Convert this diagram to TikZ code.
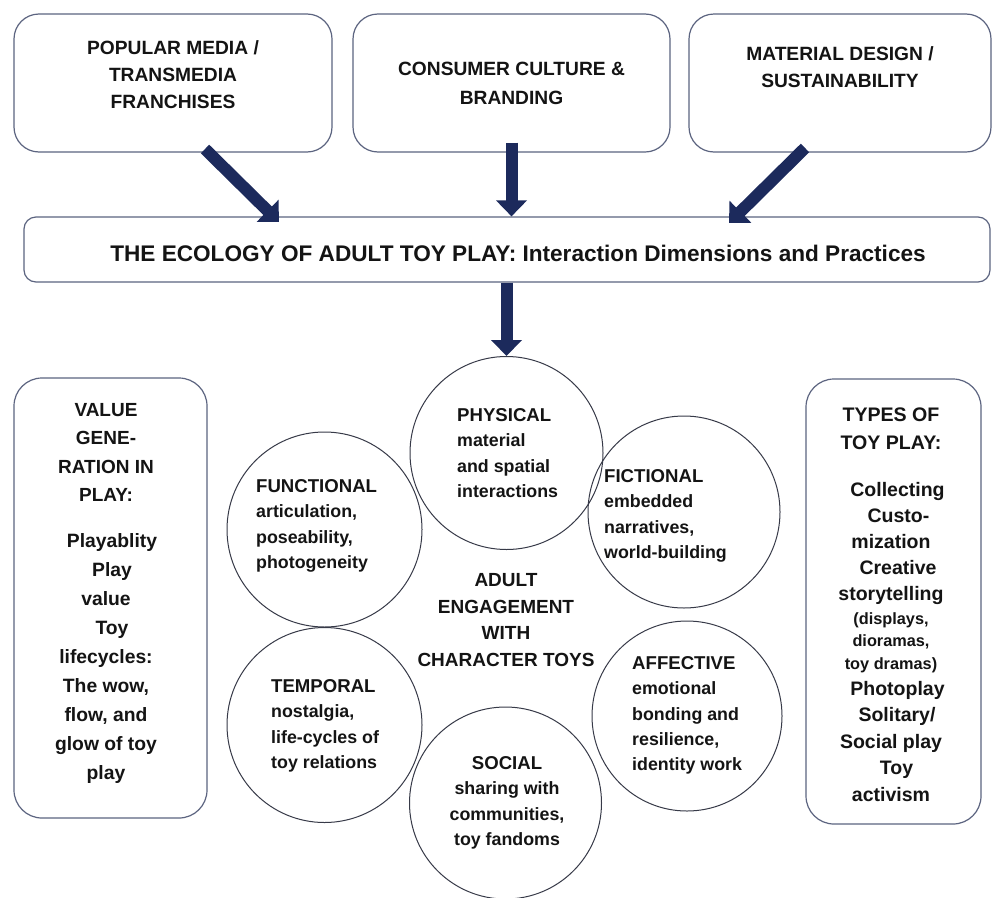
\documentclass[tikz,border=0pt]{standalone}
\usepackage{fontspec}
\setmainfont{Liberation Sans}
\usetikzlibrary{arrows.meta}
\definecolor{navy}{RGB}{28,42,92}
\definecolor{boxline}{RGB}{92,100,128}
\definecolor{circline}{RGB}{55,58,72}
\definecolor{ink}{RGB}{20,20,20}
\newcommand\fsz[2]{\fontsize{#1}{#2}\selectfont}
\begin{document}
\begin{tikzpicture}[x=1pt,y=-1pt,
  rbox/.style={draw=boxline, line width=1.2pt, fill=white, rounded corners=#1, inner sep=0pt},
  circ/.style={draw=circline, line width=1pt, circle, inner sep=0pt},
  txt/.style={inner sep=0pt, text=ink},
  bigarrow/.style={draw=navy, line width=12pt, -{Triangle[width=30pt,length=16pt]}}]
\fill[white] (0,0) rectangle (992,897);
\useasboundingbox (0,0) rectangle (992,897);

% top boxes
\node[rbox=25pt, minimum width=318pt, minimum height=138pt] (b1) at (173,83) {};
\node[rbox=25pt, minimum width=317pt, minimum height=138pt] (b2) at (511.5,83) {};
\node[rbox=25pt, minimum width=302pt, minimum height=138pt] (b3) at (840,83) {};
\node[txt, anchor=north, align=center, font={\bfseries\fsz{19.2}{27}}] (t1) at (173,40) {POPULAR MEDIA /\\TRANSMEDIA\\FRANCHISES};
\node[txt, anchor=north, align=center, font={\bfseries\fsz{19.2}{28.5}}] (t2) at (511.5,62) {CONSUMER CULTURE \&\\BRANDING};
\node[txt, anchor=north, align=center, font={\bfseries\fsz{19.2}{27}}] (t3) at (840,46) {MATERIAL DESIGN /\\SUSTAINABILITY};

% main box
\node[rbox=12pt, minimum width=966pt, minimum height=65pt] (main) at (507,249.5) {};
\node[txt, anchor=base, font={\bfseries\fsz{22.6}{27}}] (title) at (518,261) {THE ECOLOGY OF ADULT TOY PLAY: Interaction Dimensions and Practices};

% side boxes
\node[rbox=28pt, minimum width=193pt, minimum height=440pt] (lbox) at (110.5,598) {};
\node[rbox=28pt, minimum width=175pt, minimum height=445pt] (rbx) at (893.5,601.5) {};

% circles
\node[circ, minimum size=193pt] (phys) at (506.5,453) {};
\node[circ, minimum size=195pt] (func) at (324.5,529.5) {};
\node[circ, minimum size=192pt] (fict) at (684,512) {};
\node[circ, minimum size=195pt] (temp) at (324.5,725) {};
\node[circ, minimum size=190pt] (aff) at (687,716) {};
\node[circ, minimum size=192pt] (soc) at (505.5,803) {};

% arrows
\coordinate (a1t) at (205,149);
\coordinate (a1h) at (279,222);
\coordinate (a3t) at (805,148);
\coordinate (a3h) at (729,223);
\draw[bigarrow] (a1t) -- (a1h);
\draw[bigarrow] ([yshift=10pt]b2.south) -- (b2.south |- main.north);
\draw[bigarrow] (a3t) -- (a3h);
\draw[bigarrow] (phys.north |- main.south) -- (phys.north);

% circle texts
\node[txt, anchor=north west, align=left, font={\bfseries\fsz{17.8}{25.3}}] (physT) at (457,408.3) {{\fsz{18.6}{25.3}PHYSICAL}\\material\\and spatial\\interactions};
\node[txt, anchor=north west, align=left, font={\bfseries\fsz{17.8}{25.3}}] (funcT) at (256,479.3) {{\fsz{18.6}{25.3}FUNCTIONAL}\\articulation,\\poseability,\\photogeneity};
\node[txt, anchor=north west, align=left, font={\bfseries\fsz{17.8}{25.3}}] (fictT) at (604,469.3) {{\fsz{18.6}{25.3}FICTIONAL}\\embedded\\narratives,\\world-building};
\node[txt, anchor=north west, align=left, font={\bfseries\fsz{17.8}{25.3}}] (tempT) at (271,679.3) {{\fsz{18.6}{25.3}TEMPORAL}\\nostalgia,\\life-cycles of\\toy relations};
\node[txt, anchor=north west, align=left, font={\bfseries\fsz{17.8}{25.3}}] (affT) at (632,656.3) {{\fsz{18.6}{25.3}AFFECTIVE}\\emotional\\bonding and\\resilience,\\identity work};
\node[txt, anchor=north, align=center, font={\bfseries\fsz{17.8}{25.3}}] (socT) at (507,756.3) {{\fsz{18.6}{25.3}SOCIAL}\\sharing with\\communities,\\toy fandoms};
\node[txt, anchor=north, align=center, font={\bfseries\fsz{19}{26.7}}] (core) at (506,573.2) {ADULT\\ENGAGEMENT\\WITH\\CHARACTER TOYS};

% left box text
\node[txt, anchor=north, align=center, font={\bfseries\fsz{19}{28.3}}] (lh) at (106,403.2) {VALUE\\GENE-\\RATION IN\\PLAY:};
\node[txt, anchor=north, align=center, font={\bfseries\fsz{19.3}{28.9}}] (lb) at (106,533.8) {\hspace*{12pt}Playablity\\\hspace*{12pt}Play\\value\\\hspace*{12pt}Toy\\lifecycles:\\The wow,\\flow, and\\glow of toy\\play};

% right box text
\node[txt, anchor=north, align=center, font={\bfseries\fsz{19.6}{28}}] (rh) at (891,408) {TYPES OF\\TOY PLAY:};
\node[txt, anchor=north, align=center, font={\bfseries\fsz{19.5}{26}}] (rb1) at (891,481.8) {\hspace*{13pt}Collecting\\\hspace*{15pt}Custo-\\mization\hspace*{24pt}\\\hspace*{14pt}Creative\\storytelling};
\node[txt, anchor=north, align=center, font={\bfseries\fsz{16.3}{22.5}}] (rs) at (891,612) {(displays,\\dioramas,\\toy dramas)};
\node[txt, anchor=north, align=center, font={\bfseries\fsz{19.5}{26.5}}] (rb2) at (891,680.8) {\hspace*{13pt}Photoplay\\\hspace*{12pt}Solitary/\\Social play\\\hspace*{11pt}Toy\\activism};
\end{tikzpicture}
\end{document}
